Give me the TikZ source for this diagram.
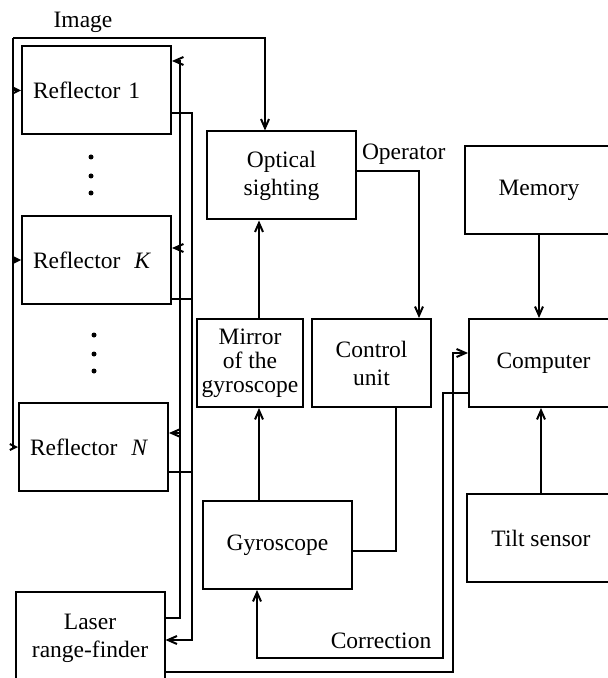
\documentclass[tikz,border=0pt]{standalone}
\usepackage{fontspec}
\setmainfont{Liberation Serif}
\usetikzlibrary{arrows.meta,positioning}

\begin{document}
\begin{tikzpicture}[
    x=0.5pt, y=-0.5pt,
    font=\fontsize{11.75}{14}\selectfont,
    line width=1pt,
    box/.style={draw, line width=1pt, minimum width=74.5pt, minimum height=44pt,
                inner sep=1pt, align=center},
    reflbox/.style={box, align=left, inner xsep=5.5pt, text width=63.5pt},
    arr/.style={-{Straight Barb[length=4.5pt,width=4pt]}, line width=1pt},
    tinyArr/.style={-{Straight Barb[length=3pt,width=3pt]}, line width=1pt},
    lbl/.style={inner sep=0pt}
]
\useasboundingbox (0,0) rectangle (607,678);

% reflectors and range-finder
\node[reflbox] (refl1) at (96.5,90.5) {Reflector 1};
\node[reflbox] (reflK) at (96.5,260) {Reflector\hspace{7pt}\textit{K}};
\node[reflbox] (reflN) at (93.5,447) {Reflector\hspace{7pt}\textit{N}};
\node[box, minimum height=46pt] (laser) at (90,638) {Laser\\range-finder};
\foreach \y in {157,176,193} \fill (91,\y) circle (1.25pt);
\foreach \y in {335,354,371} \fill (94,\y) circle (1.25pt);

% sighting chain
\node[box] (optical) at (281.5,175.5) {Optical\\sighting};
\node[box, minimum width=53pt] (mirror) at (250,363) {Mirror\\[-2pt]of the\\[-2pt]gyroscope};
\node[box, minimum width=59.5pt, right=3.5pt of mirror] (control) {Control\\unit};
\node[box] (gyro) at (277.5,545) {Gyroscope};

% computing part
\node[box] (memory) at (539,190) {Memory};
\node[box] (computer) at (543.5,363) {Computer};
\node[box] (tilt) at (541,538) {Tilt sensor};

% labels
\node[lbl] (imglbl) at (83,22) {Image};
\node[lbl, anchor=base west] (oplbl) at (361,160) {Operator};
\node[lbl] (corrlbl) at (381,641) {Correction};

\coordinate (imgcorner) at (13,38);
\coordinate (busA) at (180,0);
\coordinate (busB) at (192,0);
\coordinate (corrturn) at (443,658);
\coordinate (in1) at ([yshift=14.75pt]refl1.east);
\coordinate (inK) at ([yshift=6pt]reflK.east);
\coordinate (inN) at ([yshift=7pt]reflN.east);
\coordinate (out1) at ([yshift=-11.25pt]refl1.east);
\coordinate (outK) at ([yshift=-19.5pt]reflK.east);
\coordinate (outN) at ([yshift=-12.5pt]reflN.east);
\coordinate (lasin) at ([yshift=-1pt]laser.east);
\coordinate (mirtop) at ([xshift=4.5pt]mirror.north);
\coordinate (gyrotop) at ([xshift=-9.25pt]gyro.north);

% image feed
\draw[arr] (imgcorner) -| ([xshift=-8.25pt]optical.north);
\draw[tinyArr] (imgcorner) |- (reflN.west);
\draw[tinyArr] (imgcorner |- refl1.west) -- (refl1.west);
\draw[tinyArr] (imgcorner |- reflK.west) -- (reflK.west);

% range-finder buses
\draw[arr] ([yshift=10pt]laser.east) -| (busA |- in1) -- (in1);
\draw[arr] (busA |- inK) -- (inK);
\draw[arr] (busA |- inN) -- (inN);
\draw[arr] (out1) -| (busB |- lasin) -- (lasin);
\draw (outK) -- (busB |- outK);
\draw (outN) -- (busB |- outN);

% sighting chain
\draw[arr] ([yshift=2.25pt]optical.east) -| ([xshift=23.75pt]control.north);
\draw[arr] (mirtop) -- (mirtop |- optical.south);
\draw[arr] (gyrotop) -- (gyrotop |- mirror.south);
\draw ([xshift=12.25pt]control.south) |- ([yshift=-3pt]gyro.east);

% computer
\draw[arr] (memory.south) -- (memory.south |- computer.north);
\draw[arr] (tilt.north) -- (tilt.north |- computer.south);
\draw[arr] ([yshift=-17pt]laser.east) -| ([xshift=-7.5pt,yshift=5pt]computer.west) -- ([yshift=5pt]computer.west);
\draw[arr] ([yshift=-15pt]computer.west) -| (corrturn) -| ([xshift=-10.25pt]gyro.south);
\end{tikzpicture}
\end{document}
